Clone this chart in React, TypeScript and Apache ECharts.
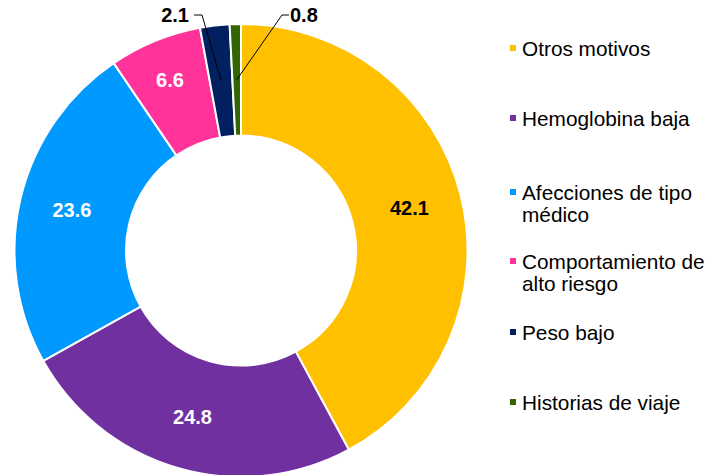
import React, { useEffect, useRef } from "react";
import * as echarts from "echarts";

const categories = [
  "Otros motivos",
  "Hemoglobina baja",
  "Afecciones de tipo médico",
  "Comportamiento de alto riesgo",
  "Peso bajo",
  "Historias de viaje",
];
const legendLines = [
  ["Otros motivos"],
  ["Hemoglobina baja"],
  ["Afecciones de tipo", "médico"],
  ["Comportamiento de", "alto riesgo"],
  ["Peso bajo"],
  ["Historias de viaje"],
];
const values = [42.1, 24.8, 23.6, 6.6, 2.1, 0.8];
const colors = ["#FFC000", "#7030A0", "#0099FF", "#FF3399", "#002060", "#336600"];
const labelColors = ["#000", "#fff", "#fff", "#fff", "#000", "#000"];
const outsideLabel = [false, false, false, false, true, true];

const FONT = "'Liberation Sans', Arial, sans-serif";
const CX = 241;
const CY = 250.5;
const R0 = 115;
const R1 = 226.5;
const legendCenters = [48, 118, 192, 261, 332, 402];

export default function App() {
  const ref = useRef<HTMLDivElement>(null);
  useEffect(() => {
    if (!ref.current) return;
    const chart = echarts.init(ref.current, null, { renderer: "svg" });
    const total = values.reduce((a, b) => a + b, 0);
    const mids: number[][] = [];
    let cum = 0;
    values.forEach((v) => {
      const a = ((cum + v / 2) / total) * Math.PI * 2;
      const rm = (R0 + R1) / 2;
      mids.push([CX + rm * Math.sin(a), CY - rm * Math.cos(a)]);
      cum += v;
    });
    const labelY = 15;
    const legends = categories.map((name, i) => {
      const lines = legendLines[i];
      const multi = lines.length > 1;
      return {
        data: [name],
        left: 508,
        top: multi ? legendCenters[i] - 33 : legendCenters[i] - 11,
        orient: "vertical",
        padding: 0,
        itemWidth: 8,
        itemHeight: 8,
        icon: "rect",
        selectedMode: false,
        formatter: () => (multi ? "\n" + lines.join("\n") : lines[0]),
        textStyle: { fontSize: 20.8, lineHeight: 22, color: "#000", fontFamily: FONT },
      };
    });
    const baseLabel = {
      fontSize: 20,
      fontWeight: "bold",
      fontFamily: FONT,
      formatter: (p: any) => p.value.toFixed(1),
    };
    chart.setOption({
      animation: false,
      backgroundColor: "#fff",
      legend: legends,
      series: [
        {
          type: "pie",
          center: [CX, CY],
          radius: [R0, R1],
          startAngle: 90,
          clockwise: true,
          avoidLabelOverlap: false,
          itemStyle: { borderColor: "#fff", borderWidth: 2 },
          label: { show: true, position: "inside", ...baseLabel },
          labelLine: { show: false },
          labelLayout: (p: any) => (p.dataIndex === 3 ? { dx: -5, dy: -10 } : {}),
          data: categories.map((name, i) => ({
            name,
            value: values[i],
            itemStyle: { color: colors[i] },
            label: { show: !outsideLabel[i], color: labelColors[i] },
          })),
        },
        {
          type: "pie",
          z: 10,
          silent: true,
          center: [CX, CY],
          radius: [R0, R1],
          startAngle: 90,
          clockwise: true,
          avoidLabelOverlap: false,
          itemStyle: { color: "rgba(0,0,0,0)", borderWidth: 0 },
          label: { show: false, position: "outside", ...baseLabel },
          labelLine: { show: false },
          labelLayout: (p: any) => {
            const i = p.dataIndex;
            const m = mids[i];
            if (i === 4) {
              const lx = 189;
              return {
                x: lx,
                y: labelY,
                align: "right",
                verticalAlign: "middle",
                labelLinePoints: [m, [lx + 13, labelY], [lx + 5, labelY]],
              };
            }
            if (i === 5) {
              const lx = 290;
              return {
                x: lx,
                y: labelY,
                align: "left",
                verticalAlign: "middle",
                labelLinePoints: [m, [lx - 8, labelY], [lx - 1, labelY]],
              };
            }
            return {};
          },
          data: categories.map((name, i) => ({
            name,
            value: values[i],
            label: { show: outsideLabel[i], color: labelColors[i] },
            labelLine: {
              show: outsideLabel[i],
              length: 10,
              length2: 10,
              lineStyle: { color: "#000", width: 1 },
            },
          })),
        },
      ],
    });
    return () => chart.dispose();
  }, []);
  return (
    <div
      ref={ref}
      style={{ position: "fixed", left: 0, top: 0, width: 719, height: 475 }}
    />
  );
}
